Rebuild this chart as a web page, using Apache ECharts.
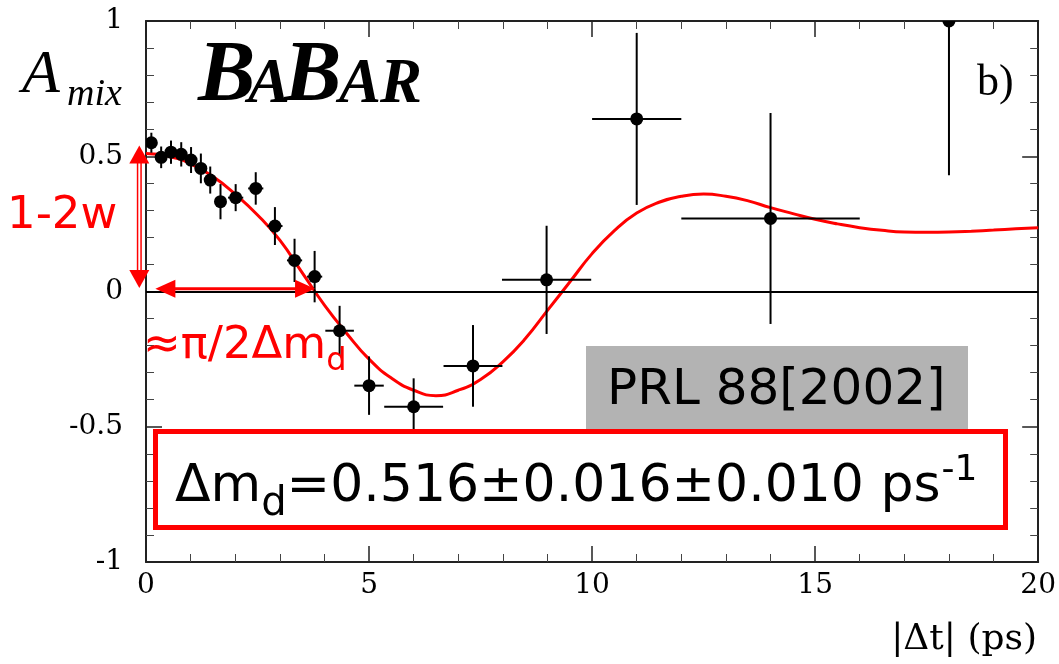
<!DOCTYPE html>
<html>
<head>
<meta charset="utf-8">
<script src="https://cdn.jsdelivr.net/npm/echarts@6/dist/echarts.min.js"></script>
<style>
html, body { margin: 0; padding: 0; background: #fff; }
#chart { width: 1059px; height: 664px; }
</style>
</head>
<body>
<div id="chart"></div>
<script>
// measured points: |dt| bin centre, asymmetry, half bin width, stat error
const binT = [0.12, 0.34, 0.56, 0.79, 1.01, 1.23, 1.44, 1.67, 2.01, 2.46, 2.89, 3.33, 3.78, 4.34, 5.0, 6.0, 7.33, 8.98, 11.0, 14.0, 18.0]
const binA = [0.55, 0.496, 0.515, 0.507, 0.486, 0.455, 0.412, 0.332, 0.347, 0.381, 0.242, 0.115, 0.055, -0.145, -0.348, -0.426, -0.275, 0.043, 0.638, 0.27, 1.0]
const binTErr = [0.11, 0.11, 0.11, 0.11, 0.11, 0.11, 0.11, 0.11, 0.17, 0.17, 0.17, 0.17, 0.17, 0.32, 0.33, 0.66, 0.66, 1.0, 1.0, 2.0, 0]
const binAErr = [0.037, 0.04, 0.043, 0.045, 0.048, 0.055, 0.05, 0.065, 0.05, 0.06, 0.07, 0.08, 0.095, 0.092, 0.108, 0.105, 0.151, 0.2, 0.318, 0.39, 0.57]

// fit curve
const curveT = [0, 0.5, 1, 1.5, 2, 2.5, 3, 3.5, 4, 4.5, 5, 5.5, 6, 6.5, 7, 7.5, 8, 8.5, 9, 9.5, 10, 10.5, 11, 11.5, 12, 12.5, 13, 13.5, 14, 14.5, 15, 15.5, 16, 16.5, 17, 17.5, 18, 18.5, 19, 19.5, 20]
const curveA = [0.51, 0.5, 0.472, 0.425, 0.36, 0.283, 0.19, 0.07, -0.05, -0.155, -0.25, -0.32, -0.365, -0.385, -0.365, -0.325, -0.26, -0.175, -0.07, 0.035, 0.14, 0.225, 0.29, 0.33, 0.352, 0.36, 0.352, 0.335, 0.31, 0.288, 0.267, 0.25, 0.236, 0.226, 0.22, 0.219, 0.22, 0.223, 0.227, 0.232, 0.236]

const xTicks = [0, 5, 10, 15, 20]
const yTicks = [-1, -0.5, 0, 0.5, 1]

const chart = echarts.init(document.getElementById('chart'))

const frame = { show: true, onZero: false, lineStyle: { color: '#222', width: 2 } }

function xAxisCfg(pos, labels) {
  return {
    type: 'value', position: pos, min: 0, max: 20, interval: 5,
    axisLine: frame,
    axisTick: { show: true, inside: true, length: 16, lineStyle: { color: '#222', width: 1.5 } },
    minorTick: { show: true, splitNumber: 5, length: 8, lineStyle: { color: '#444', width: 1 } },
    splitLine: { show: false },
    axisLabel: {
      show: labels, color: '#000', fontFamily: 'DejaVu Serif', fontSize: 28, margin: 10,
      formatter: v => xTicks.includes(v) ? String(v) : ''
    }
  }
}

function yAxisCfg(pos, labels) {
  return {
    type: 'value', position: pos, min: -1, max: 1, interval: 0.5,
    axisLine: frame,
    axisTick: { show: true, inside: true, length: 16, lineStyle: { color: '#222', width: 1.5 } },
    minorTick: { show: true, splitNumber: 5, length: 8, lineStyle: { color: '#444', width: 1 } },
    splitLine: { show: false },
    axisLabel: {
      show: labels, color: '#000', fontFamily: 'DejaVu Serif', fontSize: 28, margin: 23,
      formatter: v => yTicks.includes(v) ? String(v) : ''
    }
  }
}

const points = binT.map((t, i) => [t, binA[i], binTErr[i], binAErr[i]])

chart.setOption({
  animation: false,
  backgroundColor: '#fff',
  grid: { left: 146, right: 19, top: 21, bottom: 102 },
  xAxis: [xAxisCfg('bottom', true), xAxisCfg('top', false)],
  yAxis: [yAxisCfg('left', true), yAxisCfg('right', false)],
  series: [
    {
      type: 'line',
      data: curveT.map((t, i) => [t, curveA[i]]),
      smooth: true,
      symbol: 'none',
      lineStyle: { color: '#ff0000', width: 3 },
      z: 3,
      markLine: {
        silent: true, symbol: 'none', label: { show: false },
        lineStyle: { color: '#000', width: 2, type: 'solid' },
        data: [{ yAxis: 0 }]
      }
    },
    {
      type: 'custom',
      clip: true,
      z: 4,
      data: points,
      encode: { x: 0, y: 1 },
      renderItem(params, api) {
        const t = api.value(0), a = api.value(1), dt = api.value(2), da = api.value(3)
        const c = api.coord([t, a])
        const l = api.coord([t - dt, a]), r = api.coord([t + dt, a])
        const lo = api.coord([t, a - da]), hi = api.coord([t, a + da])
        const ls = { stroke: '#000', lineWidth: 2 }
        return {
          type: 'group',
          children: [
            { type: 'line', shape: { x1: l[0], y1: l[1], x2: r[0], y2: r[1] }, style: ls },
            { type: 'line', shape: { x1: lo[0], y1: lo[1], x2: hi[0], y2: hi[1] }, style: ls },
            { type: 'circle', shape: { cx: c[0], cy: c[1], r: 6.5 }, style: { fill: '#000' } }
          ]
        }
      }
    }
  ]
})

// annotations
const ctx = document.createElement('canvas').getContext('2d')
function textW(s, font) { ctx.font = font; return ctx.measureText(s).width }

function txt(x, base, s, size, family, opts = {}) {
  const font = `${opts.style || 'normal'} ${opts.weight || 'normal'} ${size}px "${family}"`
  return {
    type: 'text', z: 120, x: x, y: base - 0.34 * size,
    style: { text: s, font: font, fill: opts.color || '#000', align: opts.align || 'left', verticalAlign: 'middle' }
  }
}

function arrow(p1, p2, headLen, headW, width, hollow) {
  const dx = p2[0] - p1[0], dy = p2[1] - p1[1]
  const len = Math.sqrt(dx * dx + dy * dy)
  const ux = dx / len, uy = dy / len, nx = -uy, ny = ux
  const head = (tip, s) => {
    const bx = tip[0] - s * ux * headLen, by = tip[1] - s * uy * headLen
    return {
      type: 'polygon', z: 116,
      shape: { points: [tip, [bx + nx * headW / 2, by + ny * headW / 2], [bx - nx * headW / 2, by - ny * headW / 2]] },
      style: { fill: '#ff0000' }
    }
  }
  const shaft = {
    x1: p1[0] + ux * headLen * 0.8, y1: p1[1] + uy * headLen * 0.8,
    x2: p2[0] - ux * headLen * 0.8, y2: p2[1] - uy * headLen * 0.8
  }
  const out = [{ type: 'line', z: 114, shape: shaft, style: { stroke: '#ff0000', lineWidth: width } }]
  if (hollow) out.push({ type: 'line', z: 115, shape: shaft, style: { stroke: '#fff', lineWidth: width - 3 } })
  out.push(head(p1, -1), head(p2, 1))
  return out
}

const px = (t, a) => chart.convertToPixel({ gridIndex: 0 }, [t, a])

const sans = 'DejaVu Sans'
const boxSize = 52
const boxFont = `normal normal ${boxSize}px "${sans}"`
let bx = 175
const boxTexts = []
boxTexts.push(txt(bx, 505, 'Δm', boxSize, sans))
bx += textW('Δm', boxFont)
boxTexts.push(txt(bx, 518, 'd', 40, sans))
bx += textW('d', `normal normal 40px "${sans}"`)
boxTexts.push(txt(bx, 505, '=0.516±0.016±0.010 ps', boxSize, sans))
bx += textW('=0.516±0.016±0.010 ps', boxFont)
boxTexts.push(txt(bx + 1, 483, '-1', 36, sans))

const piEnd = 143 + textW('≈π/2Δm', `normal normal 45px "${sans}"`)

chart.setOption({
  graphic: [
    // axis title and labels
    txt(22, 97, 'A', 62, 'Liberation Serif', { style: 'italic' }),
    txt(67, 108, 'mix', 38, 'Liberation Serif', { style: 'italic' }),
    txt(198, 107, 'B', 86, 'Liberation Serif', { style: 'italic', weight: 'bold' }),
    txt(248, 107, 'A', 63, 'Liberation Serif', { style: 'italic', weight: 'bold' }),
    txt(284, 107, 'B', 86, 'Liberation Serif', { style: 'italic', weight: 'bold' }),
    txt(339, 107, 'A', 63, 'Liberation Serif', { style: 'italic', weight: 'bold' }),
    txt(380, 107, 'R', 63, 'Liberation Serif', { style: 'italic', weight: 'bold' }),
    txt(977, 98, 'b)', 44, 'Liberation Serif'),
    txt(1037, 652, '|Δt| (ps)', 36, 'DejaVu Serif', { align: 'right' }),
    // red annotations
    txt(7, 232, '1-2w', 45, sans, { color: '#ff0000' }),
    txt(143, 362, '≈π/2Δm', 45, sans, { color: '#ff0000' }),
    txt(piEnd, 373, 'd', 32, sans, { color: '#ff0000' }),
    ...arrow(px(-0.15, 0.54), px(-0.15, 0.013), 18, 20, 5, true),
    ...arrow(px(0.21, 0.01), px(3.79, 0.01), 20, 18, 3, false),
    // reference boxes
    { type: 'rect', z: 110, shape: { x: 586, y: 346, width: 382, height: 83 }, style: { fill: '#b3b3b3' } },
    txt(607, 408, 'PRL 88[2002]', 50, sans),
    { type: 'rect', z: 110, shape: { x: 155.5, y: 431.5, width: 850, height: 96 }, style: { fill: '#fff', stroke: '#ff0000', lineWidth: 5 } },
    ...boxTexts
  ]
})
</script>
</body>
</html>
